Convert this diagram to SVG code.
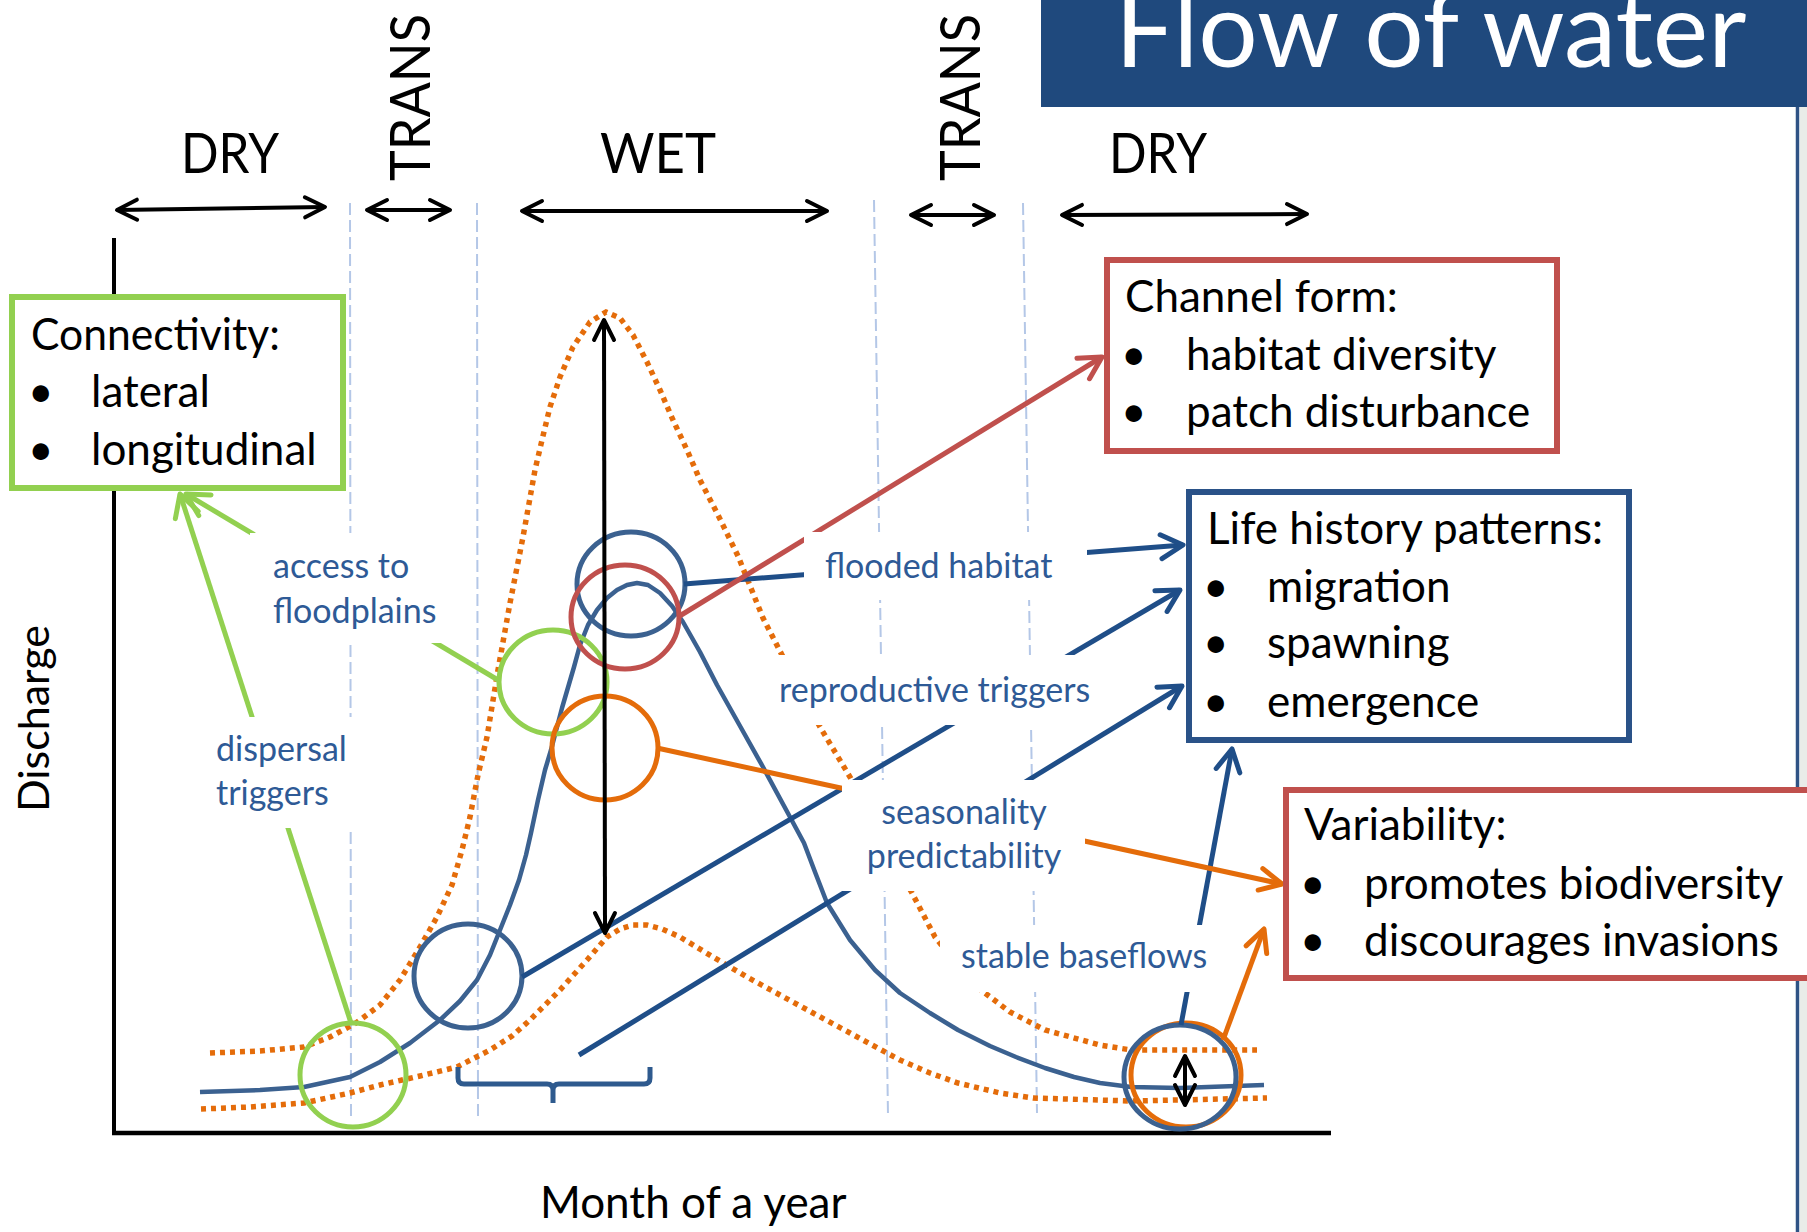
<svg xmlns="http://www.w3.org/2000/svg" width="1807" height="1232" viewBox="0 0 1807 1232">
<style>
.t{font-family:Lato,"Liberation Sans",sans-serif;fill:#000}
.per{font-size:57px}
.bx{font-size:44px}
.lbl{font-family:Lato,"Liberation Sans",sans-serif;font-size:34px;fill:#2e5a96}
.dash{stroke:#b4c7e7;stroke-width:2;stroke-dasharray:12 5;fill:none}
.dot{stroke:#e46c0a;stroke-width:5.5;stroke-dasharray:5 5;fill:none}
.hyd{stroke:#3b6190;stroke-width:4.5;fill:none;stroke-linejoin:round}
.circ{fill:none;stroke-width:5}
.cb{stroke:#1f4e88;stroke-width:5;fill:none}
.cg{stroke:#92d050;stroke-width:5;fill:none}
.co{stroke:#e46c0a;stroke-width:5;fill:none}
.cr{stroke:#c0504d;stroke-width:5;fill:none}
.blk{stroke:#000;stroke-width:4;fill:none}
.wb{fill:#fff;stroke:none}
marker{overflow:visible}
</style>
<defs>
<marker id="mk" markerUnits="userSpaceOnUse" orient="auto-start-reverse" refX="0" refY="0" markerWidth="1" markerHeight="1"><path d="M-20,-10 L0,0 L-20,10" fill="none" stroke="#000" stroke-width="4" stroke-linecap="round" stroke-linejoin="round"/></marker>
<marker id="mb" markerUnits="userSpaceOnUse" orient="auto" refX="0" refY="0" markerWidth="1" markerHeight="1"><path d="M-22,-12 L0,0 L-22,12" fill="none" stroke="#1f4e88" stroke-width="5" stroke-linecap="round" stroke-linejoin="round"/></marker>
<marker id="mg" markerUnits="userSpaceOnUse" orient="auto" refX="0" refY="0" markerWidth="1" markerHeight="1"><path d="M-22,-12 L0,0 L-22,12" fill="none" stroke="#92d050" stroke-width="5" stroke-linecap="round" stroke-linejoin="round"/></marker>
<marker id="mo" markerUnits="userSpaceOnUse" orient="auto" refX="0" refY="0" markerWidth="1" markerHeight="1"><path d="M-22,-11 L0,0 L-22,11" fill="none" stroke="#e46c0a" stroke-width="5" stroke-linecap="round" stroke-linejoin="round"/></marker>
<marker id="mr" markerUnits="userSpaceOnUse" orient="auto" refX="0" refY="0" markerWidth="1" markerHeight="1"><path d="M-22,-12 L0,0 L-22,12" fill="none" stroke="#c0504d" stroke-width="5" stroke-linecap="round" stroke-linejoin="round"/></marker>
</defs>
<rect width="1807" height="1232" fill="#fff"/>
<g id="frame">
<rect x="1800" y="106" width="7" height="1126" fill="#e9ece8"/>
<line x1="1797.5" y1="106" x2="1797.5" y2="1232" stroke="#2f5385" stroke-width="3.5"/>
</g>
<g id="title">
<rect x="1041" y="0" width="766" height="107" fill="#1f497d"/>
<text class="t" x="1115" y="67" font-size="105" style="fill:#fff">Flow of water</text>
</g>
<g id="gridlines">
<line class="dash" x1="350" y1="203" x2="351" y2="1117"/>
<line class="dash" x1="477" y1="203" x2="478" y2="1117"/>
<line class="dash" x1="874" y1="200" x2="888" y2="1115"/>
<line class="dash" x1="1023" y1="203" x2="1037" y2="1113"/>
</g>
<g id="axes">
<line x1="114" y1="238" x2="114" y2="1135" stroke="#000" stroke-width="4"/>
<line x1="112" y1="1133" x2="1331" y2="1133" stroke="#000" stroke-width="4.5"/>
<text class="t" font-size="44" x="540" y="1218">Month of a year</text>
<text class="t" font-size="43" transform="translate(49,812) rotate(-90)">Discharge</text>
</g>
<g id="curves">
<path class="dot" d="M210,1053 L260,1051 L304,1047 L330,1037 L356,1023 L380,1005 L400,980 L420,947 L437,917 L452,885 L462,850 L470,817 L478,775 L487,737 L498,670 L510,603 L523,537 L535,470 L542,440 L550,407 L560,377 L573,347 L590,322 L606,312 L620,318 L633,335 L647,362 L660,390 L673,420 L687,450 L700,480 L718,515 L738,556 L763,618 L782,655 L800,690 L820,727 L850,777 L880,835 L912,893 L935,937 L955,962 L981,990 L1010,1012 L1045,1030 L1100,1045 L1131,1050 L1257,1050"/>
<path class="dot" d="M201,1109 L250,1107 L304,1103 L350,1093 L380,1085 L420,1076 L457,1067 L490,1050 L512,1036 L530,1020 L545,1005 L560,990 L587,960 L607,937 L620,929 L633,925 L647,925 L662,929 L680,937 L713,957 L747,977 L780,995 L813,1013 L850,1033 L900,1060 L930,1073 L958,1083 L1000,1093 L1033,1098 L1131,1101 L1267,1098"/>
<path class="hyd" d="M200,1092 L260,1090 L304,1087 L350,1077 L380,1062 L410,1043 L440,1020 L460,1001 L477,980 L490,955 L500,930 L510,905 L519,880 L526,855 L531,833 L538,800 L545,770 L551,750 L562,708 L574,667 L580,645 L588,625 L597,610 L607,598 L617,590 L627,585 L637,583 L648,585 L660,593 L672,606 L683,622 L700,652 L717,685 L740,726 L763,767 L790,817 L804,843 L815,872 L827,903 L850,940 L875,970 L900,993 L930,1013 L958,1030 L990,1046 L1016,1057 L1045,1068 L1074,1077 L1100,1083 L1131,1087 L1180,1088 L1264,1085"/>
</g>
<g id="brace">
<path d="M458,1067 L458,1078 Q458,1084 464,1084 L547,1084 Q553,1084 553,1090 L553,1103 M553,1090 Q553,1084 559,1084 L644,1084 Q650,1084 650,1078 L650,1067" fill="none" stroke="#2e5a8e" stroke-width="5" stroke-linejoin="round"/>
</g>
<g id="circles">
<ellipse id="c-green-low" class="circ" stroke="#92d050" cx="353" cy="1075" rx="53" ry="52"/>
<ellipse id="c-green-mid" class="circ" stroke="#92d050" cx="553" cy="682" rx="54" ry="52"/>
<ellipse id="c-blue-low" class="circ" stroke="#3b6190" cx="468" cy="976" rx="54" ry="52"/>
<ellipse id="c-blue-top" class="circ" stroke="#3b6190" cx="631" cy="584" rx="54" ry="52"/>
<ellipse id="c-red" class="circ" stroke="#c0504d" cx="625" cy="617" rx="54" ry="52"/>
<ellipse id="c-orange-mid" class="circ" stroke="#e46c0a" cx="605" cy="748" rx="53" ry="52"/>
<ellipse id="c-orange-br" class="circ" stroke="#e46c0a" cx="1186" cy="1075" rx="55" ry="52"/>
<ellipse id="c-blue-br" class="circ" stroke="#3b6190" cx="1180" cy="1077" rx="56" ry="52"/>
</g>
<g id="connectors">
<line class="cg" x1="351" y1="1023" x2="180" y2="494" marker-end="url(#mg)"/>
<line class="cg" x1="498" y1="680" x2="186" y2="494" marker-end="url(#mg)"/>
<line class="cb" x1="684" y1="584" x2="1183" y2="545" marker-end="url(#mb)"/>
<line class="cb" x1="522" y1="977" x2="1180" y2="590" marker-end="url(#mb)"/>
<line class="cb" x1="579" y1="1055" x2="1182" y2="686" marker-end="url(#mb)"/>
<line class="cb" x1="1181" y1="1025" x2="1232" y2="749" marker-end="url(#mb)"/>
<line class="co" x1="657" y1="748" x2="1282" y2="884" marker-end="url(#mo)"/>
<line class="co" x1="1223" y1="1040" x2="1264" y2="929" marker-end="url(#mo)"/>
<line class="cr" x1="678" y1="617" x2="1102" y2="357" marker-end="url(#mr)"/>
<line class="blk" x1="604" y1="320" x2="605" y2="933" stroke-width="3.5" marker-start="url(#mk)" marker-end="url(#mk)"/>
<line class="blk" x1="1185" y1="1056" x2="1185" y2="1105" marker-start="url(#mk)" marker-end="url(#mk)"/>
</g>
<g id="lbl-access"><rect class="wb" x="250" y="533" width="195" height="110"/><text class="lbl" x="273" y="578">access to</text><text class="lbl" x="273" y="623">floodplains</text></g>
<g id="lbl-dispersal"><rect class="wb" x="205" y="717" width="150" height="111"/><text class="lbl" x="216" y="761">dispersal</text><text class="lbl" x="216" y="805">triggers</text></g>
<g id="lbl-flooded"><rect class="wb" x="804" y="532" width="283" height="68"/><text class="lbl" x="825" y="578">flooded habitat</text></g>
<g id="lbl-repro"><rect class="wb" x="770" y="655" width="330" height="70"/><text class="lbl" x="779" y="702">reproductive triggers</text></g>
<g id="lbl-season"><rect class="wb" x="842" y="780" width="243" height="111"/><text class="lbl" x="964" y="824" text-anchor="middle">seasonality</text><text class="lbl" x="964" y="868" text-anchor="middle">predictability</text></g>
<g id="lbl-stable"><rect class="wb" x="940" y="925" width="275" height="67"/><text class="lbl" x="961" y="968">stable baseflows</text></g>
<g id="node-connectivity">
<rect x="12" y="297" width="331" height="191" fill="#fff" stroke="#92d050" stroke-width="6"/>
<text class="t bx" x="31" y="350" textLength="249" lengthAdjust="spacingAndGlyphs">Connectivity:</text>
<text class="t bx" x="28" y="407">•</text><text class="t bx" x="91" y="407">lateral</text>
<text class="t bx" x="28" y="465">•</text><text class="t bx" x="91" y="465">longitudinal</text>
</g>
<g id="node-channel">
<rect x="1107" y="260" width="450" height="191" fill="#fff" stroke="#c0504d" stroke-width="6"/>
<text class="t bx" x="1125" y="312">Channel form:</text>
<text class="t bx" x="1121" y="370">•</text><text class="t bx" x="1186" y="370">habitat diversity</text>
<text class="t bx" x="1121" y="427">•</text><text class="t bx" x="1186" y="427">patch disturbance</text>
</g>
<g id="node-life">
<rect x="1189" y="492" width="440" height="248" fill="#fff" stroke="#2a5288" stroke-width="6"/>
<text class="t bx" x="1207" y="544">Life history patterns:</text>
<text class="t bx" x="1203" y="602">•</text><text class="t bx" x="1267" y="602">migration</text>
<text class="t bx" x="1203" y="658">•</text><text class="t bx" x="1267" y="658">spawning</text>
<text class="t bx" x="1203" y="717">•</text><text class="t bx" x="1267" y="717">emergence</text>
</g>
<g id="node-variability">
<rect x="1286" y="790" width="600" height="188" fill="#fff" stroke="#c0504d" stroke-width="6"/>
<text class="t bx" x="1304" y="840">Variability:</text>
<text class="t bx" x="1300" y="899">•</text><text class="t bx" x="1364" y="899">promotes biodiversity</text>
<text class="t bx" x="1300" y="956">•</text><text class="t bx" x="1364" y="956">discourages invasions</text>
</g>
<g id="periods">
<line class="blk" x1="117" y1="210" x2="325" y2="207" marker-start="url(#mk)" marker-end="url(#mk)"/>
<line class="blk" x1="367" y1="210" x2="450" y2="210" marker-start="url(#mk)" marker-end="url(#mk)"/>
<line class="blk" x1="522" y1="211" x2="827" y2="211" marker-start="url(#mk)" marker-end="url(#mk)"/>
<line class="blk" x1="911" y1="215" x2="994" y2="215" marker-start="url(#mk)" marker-end="url(#mk)"/>
<line class="blk" x1="1062" y1="215" x2="1307" y2="214" marker-start="url(#mk)" marker-end="url(#mk)"/>
<text class="t per" x="181" y="173" textLength="98" lengthAdjust="spacingAndGlyphs">DRY</text>
<text class="t per" x="600" y="173" textLength="116" lengthAdjust="spacingAndGlyphs">WET</text>
<text class="t per" x="1109" y="173" textLength="98" lengthAdjust="spacingAndGlyphs">DRY</text>
<text class="t per" transform="translate(430,181) rotate(-90)" textLength="167" lengthAdjust="spacingAndGlyphs">TRANS</text>
<text class="t per" transform="translate(980,181) rotate(-90)" textLength="167" lengthAdjust="spacingAndGlyphs">TRANS</text>
</g>
</svg>
